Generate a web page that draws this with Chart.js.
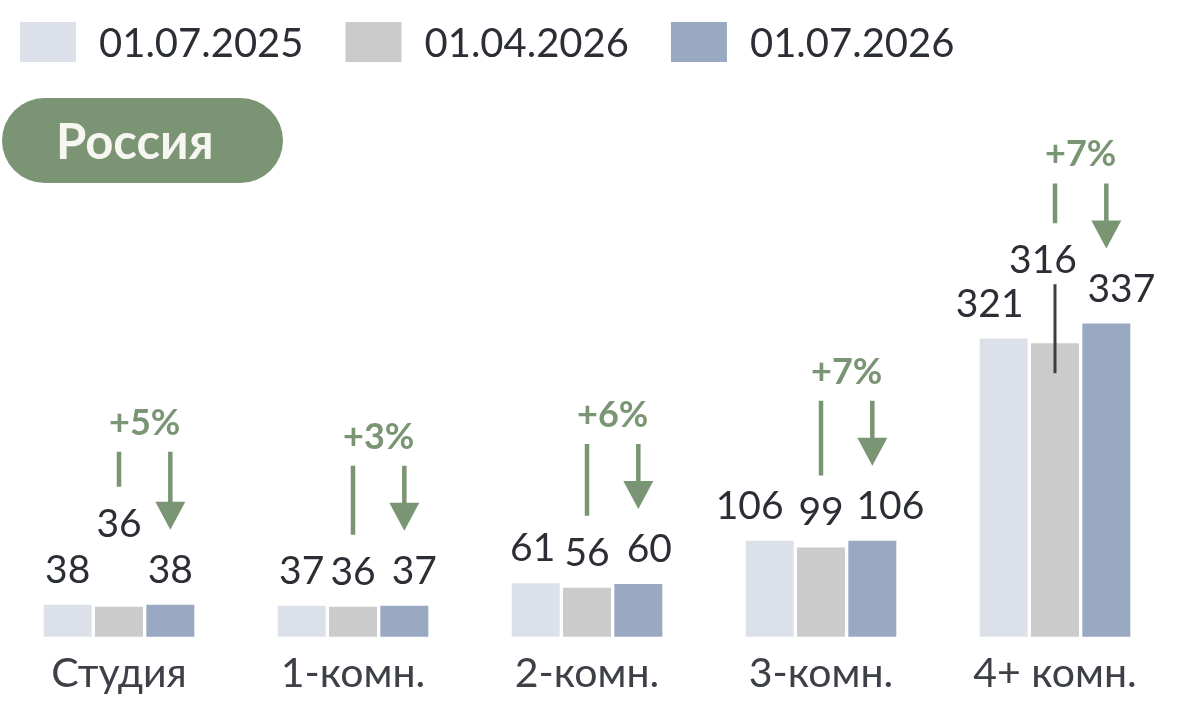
<!DOCTYPE html>
<html>
<head>
<meta charset="utf-8">
<script src="https://cdn.jsdelivr.net/npm/chart.js@4/dist/chart.umd.min.js"></script>
<style>
  html, body { margin: 0; padding: 0; background: #ffffff; }
  #wrap { width: 1200px; height: 710px; position: relative; }
</style>
</head>
<body>
<div id="wrap"><canvas id="priceChart" width="1200" height="710"></canvas></div>
<script>
// data
const categories = ['Студия', '1-комн.', '2-комн.', '3-комн.', '4+ комн.'];
const seriesNames = ['01.07.2025', '01.04.2026', '01.07.2026'];
const values2025_07 = [38, 37, 61, 106, 321];
const values2026_04 = [36, 36, 56, 99, 316];
const values2026_07 = [38, 37, 60, 106, 337];
const changeLabels = ['+5%', '+3%', '+6%', '+7%', '+7%'];
const regionName = 'Россия';

const colors = ['#dce1e9', '#cbcbcb', '#98a9c1'];
const green = '#7a9573';
const textDark = '#2b2e35';
const FONT = 'Lato, "Noto Sans", sans-serif';

// text centred on yCenter (cap height ~0.72em)
function textAt(ctx, str, x, yCenter, size, weight, color, align) {
    ctx.font = weight + ' ' + size + 'px ' + FONT;
    ctx.fillStyle = color;
    ctx.textAlign = align || 'center';
    ctx.textBaseline = 'alphabetic';
    ctx.fillText(str, x, yCenter + size * 0.36);
}

// legend + region pill on top
const headerPlugin = {
    id: 'header',
    afterDraw(chart) {
        const ctx = chart.ctx;
        ctx.save();
        let x = 20;
        chart.data.datasets.forEach(ds => {
            ctx.fillStyle = ds.backgroundColor;
            ctx.fillRect(x, 22, 56, 40);
            x += 56 + 23;
            ctx.font = '400 40px ' + FONT;
            const w = ctx.measureText(ds.label).width;
            textAt(ctx, ds.label, x, 43, 40, '400', textDark, 'left');
            x += w + 42;
        });

        // pill
        ctx.fillStyle = '#7b9474';
        ctx.beginPath();
        ctx.roundRect(2, 98, 281, 85, 42.5);
        ctx.fill();
        textAt(ctx, regionName, 56, 141, 49, '700', '#f7f7f2', 'left');
        ctx.restore();
    }
};

// value labels, change arrows
const labelPlugin = {
    id: 'barLabels',
    afterDatasetsDraw(chart, args, opts) {
        const ctx = chart.ctx;
        const metas = [0, 1, 2].map(i => chart.getDatasetMeta(i));
        ctx.save();
        const labelCenter = (el, i, j) => el.y - 36 - ((opts.lift[j] || [0, 0, 0])[i]);
        const labelX = (el, i, j) => el.x + ((opts.shift[j] || [0, 0, 0])[i]);

        metas.forEach((meta, i) => {
            meta.data.forEach((el, j) => {
                const v = chart.data.datasets[i].data[j];
                const cy = labelCenter(el, i, j);
                textAt(ctx, String(v), labelX(el, i, j), cy, 39, '400', textDark);
                if (opts.leaders.includes(j) && i === 1) {
                    ctx.strokeStyle = '#3a3d44';
                    ctx.lineWidth = 3;
                    ctx.beginPath();
                    ctx.moveTo(el.x, cy + 25);
                    ctx.lineTo(el.x, el.y + 30);
                    ctx.stroke();
                }
            });
        });

        // green change marks between 2nd and 3rd series
        metas[1].data.forEach((m, j) => {
            const t = metas[2].data[j];
            const midTop = labelCenter(m, 1, j) - 14;
            const lastTop = labelCenter(t, 2, j) - 14;
            const lineEnd = midTop - 22;
            const tip = lastTop - 25;
            const top = Math.min(tip - 65, lineEnd - 35);

            ctx.strokeStyle = green;
            ctx.fillStyle = green;
            ctx.lineWidth = 4.5;
            ctx.beginPath();
            ctx.moveTo(m.x, top);
            ctx.lineTo(m.x, lineEnd);
            ctx.moveTo(t.x, top);
            ctx.lineTo(t.x, tip - 27);
            ctx.stroke();
            ctx.beginPath();
            ctx.moveTo(t.x - 15, tip - 28);
            ctx.lineTo(t.x + 15, tip - 28);
            ctx.lineTo(t.x, tip);
            ctx.closePath();
            ctx.fill();

            textAt(ctx, changeLabels[j], (m.x + t.x) / 2, top - 30, 36, '700', green);
        });
        ctx.restore();
    }
};

const ctx = document.getElementById('priceChart').getContext('2d');
const priceChart = new Chart(ctx, {
    type: 'bar',
    data: {
        labels: categories,
        datasets: [
            { label: seriesNames[0], data: values2025_07, backgroundColor: colors[0] },
            { label: seriesNames[1], data: values2026_04, backgroundColor: colors[1] },
            { label: seriesNames[2], data: values2026_07, backgroundColor: colors[2] },
        ]
    },
    options: {
        responsive: false,
        animation: false,
        devicePixelRatio: 1,
        layout: { padding: { top: 76, left: 2, right: 28, bottom: 0 } },
        datasets: {
            bar: { categoryPercentage: 0.658, barPercentage: 0.935 }
        },
        scales: {
            y: { display: false, min: 4, max: 600 },
            x: {
                grid: { display: false, drawTicks: false },
                border: { display: false },
                ticks: {
                    padding: 12,
                    color: '#3d4047',
                    font: { family: FONT, size: 41 }
                }
            }
        },
        plugins: {
            legend: { display: false },
            tooltip: { enabled: false },
            barLabels: {
                lift: { 0: [0, 48, 0], 4: [0, 48, 0] },
                shift: { 1: [0, 0, 10], 2: [-3, 0, 11], 3: [-20, 0, 18], 4: [-14, -12, 15] },
                leaders: [4]
            }
        }
    },
    plugins: [headerPlugin, labelPlugin]
});
</script>
</body>
</html>
